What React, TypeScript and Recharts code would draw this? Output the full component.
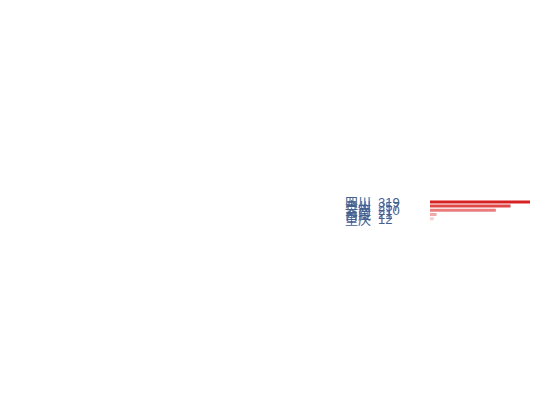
import React from "react";
import { BarChart, Bar, XAxis, YAxis, Cell } from "recharts";

const provinces = ["四川", "贵州", "云南", "西藏", "重庆"];
const counts = [319, 257, 210, 21, 12];
const barColors = ["#d62222", "#e04848", "#ea7c7c", "#f2a8a8", "#f8cfcf"];

const data = provinces.map((name, i) => ({ name, value: counts[i] }));

const Tick = (props: any) => {
  const { x, y, payload, index } = props;
  const v = counts[index];
  return (
    <g>
      <text
        x={x - 77}
        y={y}
        dy="0.355em"
        textAnchor="start"
        fontSize={13}
        fill="#43608f"
        fontFamily="'Liberation Sans', 'Noto Sans CJK SC', sans-serif"
      >
        {payload.value}
      </text>
      <text
        x={x - 44}
        y={y}
        dy="0.355em"
        textAnchor="start"
        fontSize={13}
        fill="#43608f"
        fontFamily="'Liberation Sans', 'Noto Sans CJK SC', sans-serif"
      >
        {v}
      </text>
    </g>
  );
};

export default function App() {
  return (
    <div style={{ width: 530, height: 400 }}>
      <BarChart
        width={530}
        height={400}
        data={data}
        layout="vertical"
        margin={{ top: 192, right: 8, bottom: 187, left: 0 }}
      >
        <XAxis type="number" hide domain={[0, "dataMax"]} />
        <YAxis
          type="category"
          dataKey="name"
          width={422}
          axisLine={false}
          tickLine={false}
          tick={<Tick />}
          interval={0}
        />
        <Bar dataKey="value" isAnimationActive={false}>
          {data.map((d, i) => (
            <Cell key={d.name} fill={barColors[i]} />
          ))}
        </Bar>
      </BarChart>
    </div>
  );
}
